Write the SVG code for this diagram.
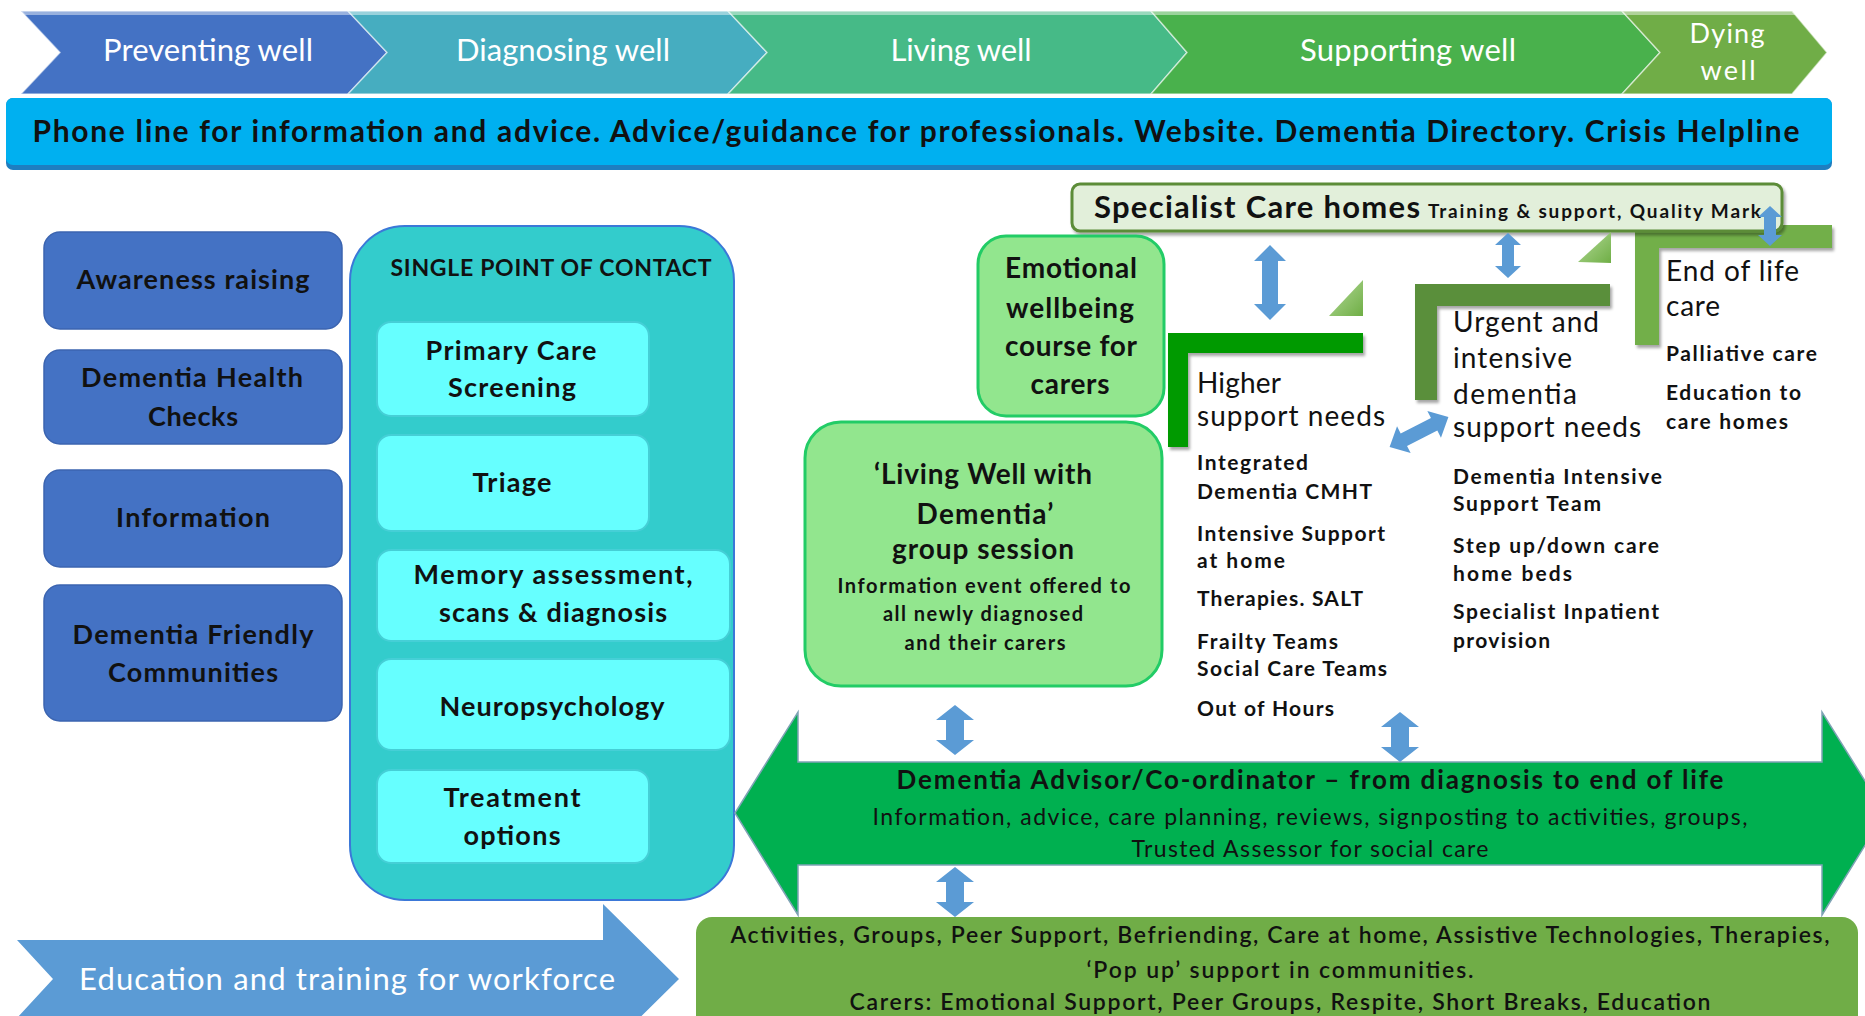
<svg xmlns="http://www.w3.org/2000/svg" width="1865" height="1016" viewBox="0 0 1865 1016">
<style>
text{font-family:Lato,"Liberation Sans",sans-serif;fill:#111}
.w{fill:#fff}
.b{font-weight:700}
.sb{font-weight:600}
.c{text-anchor:middle}
.blue{fill:#4472C4;stroke:#3B64B0;stroke-width:1.5}
.cyan{fill:#66FFFF;stroke:#45CFD6;stroke-width:2}
.lg{fill:#92E68E;stroke:#22CC66;stroke-width:3}
.arr{fill:#5B9BD5}
.chev{stroke:#ffffff;stroke-opacity:.55;stroke-width:1.5}
</style>
<defs>
<filter id="sh" x="-10%" y="-10%" width="130%" height="140%"><feDropShadow dx="2" dy="3" stdDeviation="1.5" flood-color="#000" flood-opacity=".35"/></filter>
<linearGradient id="tri" x1="0" y1="0" x2="1" y2="1"><stop offset="0" stop-color="#B5DB9A"/><stop offset="1" stop-color="#6FAE45"/></linearGradient>
<clipPath id="chevclip">
<polygon points="21,11 348,11 387,52.5 348,94 21,94 60,52.5"/>
<polygon points="348,11 728,11 767,52.5 728,94 348,94 387,52.5"/>
<polygon points="728,11 1151,11 1187,52.5 1151,94 728,94 767,52.5"/>
<polygon points="1151,11 1622,11 1660,52.5 1622,94 1151,94 1187,52.5"/>
<polygon points="1622,11 1792,11 1827,52.5 1792,94 1622,94 1660,52.5"/>
</clipPath>
</defs>
<rect width="1865" height="1016" fill="#fff"/>

<g id="stages">
<polygon class="chev" fill="#4472C4" points="21,11 348,11 387,52.5 348,94 21,94 60,52.5"/>
<polygon class="chev" fill="#46ADC0" points="348,11 728,11 767,52.5 728,94 348,94 387,52.5"/>
<polygon class="chev" fill="#46BA87" points="728,11 1151,11 1187,52.5 1151,94 728,94 767,52.5"/>
<polygon class="chev" fill="#49B14C" points="1151,11 1622,11 1660,52.5 1622,94 1151,94 1187,52.5"/>
<polygon class="chev" fill="#70AD47" points="1622,11 1792,11 1827,52.5 1792,94 1622,94 1660,52.5"/>
<rect x="0" y="11" width="1865" height="4" fill="#fff" opacity=".45" clip-path="url(#chevclip)"/>
<text class="w c" x="208" y="61" font-size="31" textLength="210">Preventing well</text>
<text class="w c" x="563" y="61" font-size="31" textLength="214">Diagnosing well</text>
<text class="w c" x="961" y="61" font-size="31" textLength="141">Living well</text>
<text class="w c" x="1408" y="61" font-size="31" textLength="216">Supporting well</text>
<text class="w c" x="1727" y="43" font-size="27" textLength="75">Dying</text>
<text class="w c" x="1728" y="80" font-size="27" textLength="55">well</text>
</g>

<g id="phone-line">
<rect x="6" y="98" width="1826" height="72" rx="7" fill="#1E7EC0"/>
<rect x="6" y="98" width="1826" height="67" rx="7" fill="#00B0F0"/>
<text class="b c" x="916" y="142" font-size="30" textLength="1767">Phone line for information and advice. Advice/guidance for professionals. Website. Dementia Directory. Crisis Helpline</text>
</g>

<g id="awareness">
<rect class="blue" x="44" y="232" width="298" height="97" rx="16"/>
<text class="b c" x="193" y="289" font-size="27" textLength="233">Awareness raising</text>
</g>
<g id="health-checks">
<rect class="blue" x="44" y="350" width="298" height="94" rx="16"/>
<text class="b c" x="192" y="387" font-size="27" textLength="222">Dementia Health</text>
<text class="b c" x="193" y="426" font-size="27" textLength="90">Checks</text>
</g>
<g id="information">
<rect class="blue" x="44" y="470" width="298" height="97" rx="16"/>
<text class="b c" x="193" y="527" font-size="27" textLength="154">Information</text>
</g>
<g id="friendly-communities">
<rect class="blue" x="44" y="585" width="298" height="136" rx="16"/>
<text class="b c" x="193" y="644" font-size="27" textLength="241">Dementia Friendly</text>
<text class="b c" x="193" y="682" font-size="27" textLength="170">Communities</text>
</g>

<g id="single-point-of-contact">
<rect x="350" y="226" width="384" height="674" rx="55" fill="#33CCCC" stroke="#3B78D8" stroke-width="2"/>
<text class="b c" x="551" y="276" font-size="23" textLength="321">SINGLE POINT OF CONTACT</text>
</g>
<g id="primary-care">
<rect class="cyan" x="377" y="322" width="272" height="94" rx="14"/>
<text class="b c" x="511" y="360" font-size="27" textLength="171">Primary Care</text>
<text class="b c" x="512" y="397" font-size="27" textLength="128">Screening</text>
</g>
<g id="triage">
<rect class="cyan" x="377" y="435" width="272" height="96" rx="14"/>
<text class="b c" x="512" y="492" font-size="27" textLength="79">Triage</text>
</g>
<g id="memory-assessment">
<rect class="cyan" x="377" y="550" width="353" height="91" rx="14"/>
<text class="b c" x="553" y="584" font-size="27" textLength="279">Memory assessment,</text>
<text class="b c" x="553" y="622" font-size="27" textLength="228">scans &amp; diagnosis</text>
</g>
<g id="neuropsychology">
<rect class="cyan" x="377" y="659" width="353" height="91" rx="14"/>
<text class="b c" x="552" y="716" font-size="27" textLength="225">Neuropsychology</text>
</g>
<g id="treatment">
<rect class="cyan" x="377" y="770" width="272" height="93" rx="14"/>
<text class="b c" x="512" y="807" font-size="27" textLength="137">Treatment</text>
<text class="b c" x="512" y="845" font-size="27" textLength="97">options</text>
</g>

<g id="education">
<polygon fill="#5B9BD5" points="17,940 603,940 603,904 679,979 603,1054 603,1018 17,1018 53,979"/>
<text class="w c" x="347" y="990" font-size="31" textLength="536">Education and training for workforce</text>
</g>

<g id="specialist-care-homes">
<polygon fill="#72AF4A" filter="url(#sh)" points="1635,225 1832,225 1832,248 1659,248 1659,345 1635,345"/>
<rect x="1072" y="184" width="710" height="47" rx="8" fill="#E2EFDA" stroke="#5B8C38" stroke-width="3" filter="url(#sh)"/>
<text class="b" x="1094" y="218" font-size="31" textLength="326">Specialist Care homes</text>
<text class="b" x="1428" y="218" font-size="19" textLength="333">Training &amp; support, Quality Mark</text>
</g>

<g id="emotional-wellbeing">
<rect class="lg" x="978" y="236" width="186" height="180" rx="28"/>
<text class="b c" x="1071" y="278" font-size="28" textLength="132">Emotional</text>
<text class="b c" x="1070" y="318" font-size="28" textLength="128">wellbeing</text>
<text class="b c" x="1071" y="356" font-size="28" textLength="132">course for</text>
<text class="b c" x="1070" y="394" font-size="28" textLength="79">carers</text>
</g>

<g id="living-well-session">
<rect class="lg" x="805" y="422" width="357" height="264" rx="36"/>
<text class="b c" x="983" y="484" font-size="28" textLength="218">‘Living Well with</text>
<text class="b c" x="985" y="524" font-size="28" textLength="137">Dementia’</text>
<text class="b c" x="983" y="559" font-size="28" textLength="182">group session</text>
<text class="b c" x="984" y="593" font-size="20" textLength="293">Information event offered to</text>
<text class="b c" x="983" y="621" font-size="20" textLength="200">all newly diagnosed</text>
<text class="b c" x="985" y="650" font-size="20" textLength="161">and their carers</text>
</g>

<g id="higher-support">
<path fill="#009A00" filter="url(#sh)" d="M1168,333 H1363 V353 H1188 V447 H1168 Z"/>
<polygon fill="url(#tri)" points="1329,316 1363,280 1363,316"/>
<text x="1197" y="393" font-size="28" textLength="84">Higher</text>
<text x="1197" y="426" font-size="28" textLength="188">support needs</text>
<text class="b" x="1197" y="470" font-size="21" textLength="111">Integrated</text>
<text class="b" x="1197" y="499" font-size="21" textLength="175">Dementia CMHT</text>
<text class="b" x="1197" y="541" font-size="21" textLength="188">Intensive Support</text>
<text class="b" x="1197" y="568" font-size="21" textLength="88">at home</text>
<text class="b" x="1197" y="606" font-size="21" textLength="166">Therapies. SALT</text>
<text class="b" x="1197" y="649" font-size="21" textLength="141">Frailty Teams</text>
<text class="b" x="1197" y="676" font-size="21" textLength="190">Social Care Teams</text>
<text class="b" x="1197" y="716" font-size="21" textLength="137">Out of Hours</text>
</g>

<g id="urgent-intensive">
<path fill="#5A8F3A" filter="url(#sh)" d="M1415,284 H1610 V306 H1437 V400 H1415 Z"/>
<polygon fill="url(#tri)" points="1578,262 1611,232 1611,263"/>
<text x="1453" y="332" font-size="28" textLength="146">Urgent and</text>
<text x="1453" y="368" font-size="28" textLength="119">intensive</text>
<text x="1453" y="404" font-size="28" textLength="124">dementia</text>
<text x="1453" y="437" font-size="28" textLength="188">support needs</text>
<text class="b" x="1453" y="484" font-size="21" textLength="209">Dementia Intensive</text>
<text class="b" x="1453" y="511" font-size="21" textLength="148">Support Team</text>
<text class="b" x="1453" y="553" font-size="21" textLength="206">Step up/down care</text>
<text class="b" x="1453" y="581" font-size="21" textLength="119">home beds</text>
<text class="b" x="1453" y="619" font-size="21" textLength="206">Specialist Inpatient</text>
<text class="b" x="1453" y="648" font-size="21" textLength="97">provision</text>
</g>

<g id="end-of-life">
<text x="1666" y="281" font-size="28" textLength="133">End of life</text>
<text x="1666" y="316" font-size="28" textLength="54">care</text>
<text class="b" x="1666" y="361" font-size="21" textLength="151">Palliative care</text>
<text class="b" x="1666" y="400" font-size="21" textLength="135">Education to</text>
<text class="b" x="1666" y="429" font-size="21" textLength="122">care homes</text>
</g>

<g id="dementia-advisor">
<polygon fill="#00B050" stroke="#7FA3B5" stroke-width="1.5" points="735,813 798,712 798,762 1822,762 1822,712 1885,813 1822,915 1822,865 798,865 798,915"/>
<text class="b c" x="1310" y="789" font-size="26" textLength="827">Dementia Advisor/Co-ordinator – from diagnosis to end of life</text>
<text class="c" x="1310" y="825" font-size="23" textLength="875">Information, advice, care planning, reviews, signposting to activities, groups,</text>
<text class="c" x="1310" y="857" font-size="23" textLength="357">Trusted Assessor for social care</text>
</g>

<g id="activities">
<rect x="696" y="917" width="1162" height="125" rx="16" fill="#70AD47"/>
<text class="sb c" x="1280" y="943" font-size="23" textLength="1099">Activities, Groups, Peer Support, Befriending, Care at home, Assistive Technologies, Therapies,</text>
<text class="sb c" x="1280" y="978" font-size="23" textLength="387">‘Pop up’ support in communities.</text>
<text class="sb c" x="1280" y="1010" font-size="23" textLength="861">Carers: Emotional Support, Peer Groups, Respite, Short Breaks, Education</text>
</g>

<g id="connectors">
<path class="arr" d="M955,705 L974,720 L964,720 L964,740 L974,740 L955,755 L936,740 L946,740 L946,720 L936,720 Z"/>
<path class="arr" d="M955,867 L974,882 L964,882 L964,902 L974,902 L955,917 L936,902 L946,902 L946,882 L936,882 Z"/>
<path class="arr" d="M1400,712 L1419,727 L1409,727 L1409,747 L1419,747 L1400,762 L1381,747 L1391,747 L1391,727 L1381,727 Z"/>
<path class="arr" d="M1270,245 L1286,261 L1278,261 L1278,304 L1286,304 L1270,320 L1254,304 L1262,304 L1262,261 L1254,261 Z"/>
<path class="arr" d="M1508,233 L1521,245 L1514,245 L1514,266 L1521,266 L1508,278 L1495,266 L1502,266 L1502,245 L1495,245 Z"/>
<path class="arr" d="M1770,206 L1782,217 L1776,217 L1776,235 L1782,235 L1770,246 L1758,235 L1764,235 L1764,217 L1758,217 Z"/>
<path class="arr" transform="translate(1419,432) rotate(-27)" d="M-33,0 L-17,-15 L-17,-7 L17,-7 L17,-15 L33,0 L17,15 L17,7 L-17,7 L-17,15 Z"/>
</g>
</svg>
